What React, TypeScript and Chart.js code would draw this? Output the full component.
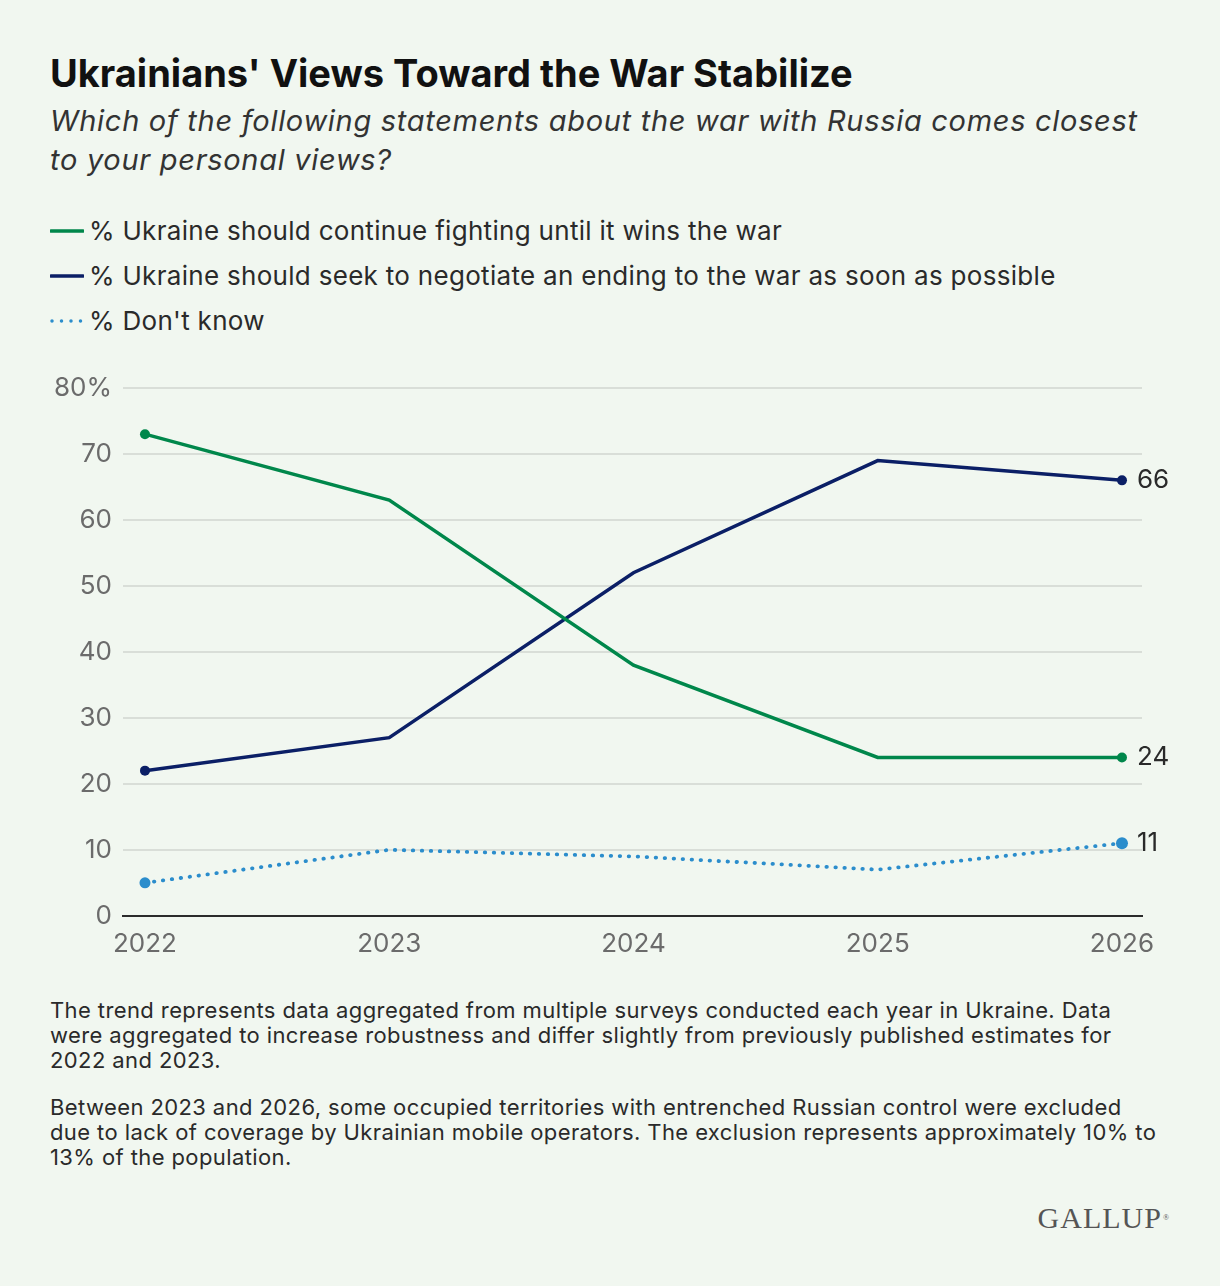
import React, { useEffect, useRef } from "react";
import { Chart, registerables } from "chart.js";

Chart.register(...registerables);

const years = [2022, 2023, 2024, 2025, 2026];
const continueFighting = [73, 63, 38, 24, 24];
const negotiate = [22, 27, 52, 69, 66];
const dontKnow = [5, 10, 9, 7, 11];
const yTicks = [0, 10, 20, 30, 40, 50, 60, 70, 80];

const BG = "#f1f7f0";
const GREEN = "#00874b";
const NAVY = "#0b1f66";
const BLUE = "#2b8dcc";
const FONT = "Inter, 'Noto Sans', sans-serif";

const endLabels = {
    id: "endLabels",
    afterDatasetsDraw(chart: Chart) {
        const ctx = chart.ctx;
        ctx.save();
        ctx.font = `26px ${FONT}`;
        ctx.fillStyle = "#2a2a2a";
        ctx.textAlign = "left";
        ctx.textBaseline = "middle";
        chart.data.datasets.forEach((ds, i) => {
            const meta = chart.getDatasetMeta(i);
            const pt = meta.data[meta.data.length - 1];
            const v = (ds.data[ds.data.length - 1] as any).y;
            ctx.fillText(String(v), pt.x + 15, pt.y);
        });
        ctx.restore();
    },
};

const LegendRow: React.FC<{ color: string; dotted?: boolean; text: string }> = ({ color, dotted, text }) => (
    <div style={{ display: "flex", alignItems: "center", height: 45 }}>
        <svg width="34" height="8" style={{ marginRight: 5 }}>
            {dotted ? (
                <line x1="2" y1="4" x2="32" y2="4" stroke={color} strokeWidth="3.5" strokeLinecap="round" strokeDasharray="0 9.5" />
            ) : (
                <line x1="1" y1="4" x2="33" y2="4" stroke={color} strokeWidth="3.5" strokeLinecap="round" />
            )}
        </svg>
        <span>{text}</span>
    </div>
);

const App: React.FC = () => {
    const canvasRef = useRef<HTMLCanvasElement | null>(null);

    useEffect(() => {
        if (!canvasRef.current) return;
        const toPts = (vals: number[]) => years.map((x, i) => ({ x, y: vals[i] }));
        const ends = [5, 0, 0, 0, 5];
        const chart = new Chart(canvasRef.current, {
            type: "line",
            data: {
                datasets: [
                    {
                        label: "% Ukraine should continue fighting until it wins the war",
                        data: toPts(continueFighting),
                        borderColor: GREEN,
                        backgroundColor: GREEN,
                        borderWidth: 3.5,
                        pointRadius: ends,
                        pointBorderWidth: 0,
                    },
                    {
                        label: "% Ukraine should seek to negotiate an ending to the war as soon as possible",
                        data: toPts(negotiate),
                        borderColor: NAVY,
                        backgroundColor: NAVY,
                        borderWidth: 3.5,
                        pointRadius: ends,
                        pointBorderWidth: 0,
                    },
                    {
                        label: "% Don't know",
                        data: toPts(dontKnow),
                        borderColor: BLUE,
                        backgroundColor: BLUE,
                        borderWidth: 3.8,
                        borderDash: [0.5, 8.5],
                        borderCapStyle: "round",
                        pointRadius: [5.5, 0, 0, 0, 6],
                        pointBorderWidth: 0,
                    },
                ],
            },
            options: {
                responsive: false,
                animation: false,
                layout: { padding: { top: 28, left: 53, right: 78, bottom: 12 } },
                plugins: { legend: { display: false }, tooltip: { enabled: false } },
                scales: {
                    x: {
                        type: "linear",
                        min: 2021.91,
                        max: 2026.082,
                        afterBuildTicks: (scale) => {
                            scale.ticks = years.map((v) => ({ value: v }));
                        },
                        grid: { display: false, drawTicks: false },
                        border: { display: true, color: "#2b2b2b", width: 2 },
                        ticks: {
                            padding: 13,
                            color: "#6b6b6b",
                            font: { size: 26, family: FONT },
                            callback: (v) => String(v),
                        },
                    },
                    y: {
                        min: 0,
                        max: 80,
                        afterFit: (scale) => {
                            scale.width = 70;
                        },
                        afterBuildTicks: (scale) => {
                            scale.ticks = yTicks.map((v) => ({ value: v }));
                        },
                        grid: {
                            drawTicks: false,
                            color: (c) => (c.tick && c.tick.value === 0 ? "rgba(0,0,0,0)" : "#d9ded8"),
                            lineWidth: 2,
                        },
                        border: { display: false },
                        ticks: {
                            padding: 11,
                            color: "#6b6b6b",
                            font: { size: 26, family: FONT },
                            callback: (v) => (v === 80 ? "80%" : String(v)),
                        },
                    },
                },
            },
            plugins: [endLabels],
        });
        return () => chart.destroy();
    }, []);

    return (
        <div
            style={{
                position: "absolute",
                left: 0,
                top: 0,
                width: 1220,
                height: 1286,
                background: BG,
                fontFamily: FONT,
                color: "#2a2a2a",
                overflow: "hidden",
            }}
        >
            <div style={{ position: "absolute", left: 50, top: 53, fontSize: 38, fontWeight: 700, lineHeight: "40px", color: "#111", whiteSpace: "nowrap" }}>
                Ukrainians' Views Toward the War Stabilize
            </div>
            <div
                style={{
                    position: "absolute",
                    left: 50,
                    top: 101,
                    fontSize: 29,
                    letterSpacing: 0.7,
                    fontStyle: "italic",
                    lineHeight: "39px",
                    color: "#333",
                    whiteSpace: "nowrap",
                }}
            >
                Which of the following statements about the war with Russia comes closest
                <br />
                to your personal views?
            </div>
            <div style={{ position: "absolute", left: 50, top: 208, fontSize: 26, letterSpacing: 0.3, color: "#2a2a2a", whiteSpace: "nowrap" }}>
                <LegendRow color={GREEN} text="% Ukraine should continue fighting until it wins the war" />
                <LegendRow color={NAVY} text="% Ukraine should seek to negotiate an ending to the war as soon as possible" />
                <LegendRow color={BLUE} dotted text="% Don't know" />
            </div>
            <canvas ref={canvasRef} width={1220} height={625} style={{ position: "absolute", left: 0, top: 360 }} />
            <div style={{ position: "absolute", left: 50, top: 998, fontSize: 22, letterSpacing: 0.4, lineHeight: "25px", color: "#2a2a2a", whiteSpace: "nowrap" }}>
                The trend represents data aggregated from multiple surveys conducted each year in Ukraine. Data
                <br />
                were aggregated to increase robustness and differ slightly from previously published estimates for
                <br />
                2022 and 2023.
            </div>
            <div style={{ position: "absolute", left: 50, top: 1095, fontSize: 22, letterSpacing: 0.4, lineHeight: "25px", color: "#2a2a2a", whiteSpace: "nowrap" }}>
                Between 2023 and 2026, some occupied territories with entrenched Russian control were excluded
                <br />
                due to lack of coverage by Ukrainian mobile operators. The exclusion represents approximately 10% to
                <br />
                13% of the population.
            </div>
            <div
                style={{
                    position: "absolute",
                    right: 50,
                    top: 1200,
                    fontFamily: "'Liberation Serif', 'DejaVu Serif', serif",
                    fontSize: 30,
                    letterSpacing: 1,
                    color: "#555",
                    lineHeight: "36px",
                }}
            >
                GALLUP<span style={{ fontSize: 8, verticalAlign: "top", marginLeft: 1 }}>®</span>
            </div>
        </div>
    );
};

export default App;
